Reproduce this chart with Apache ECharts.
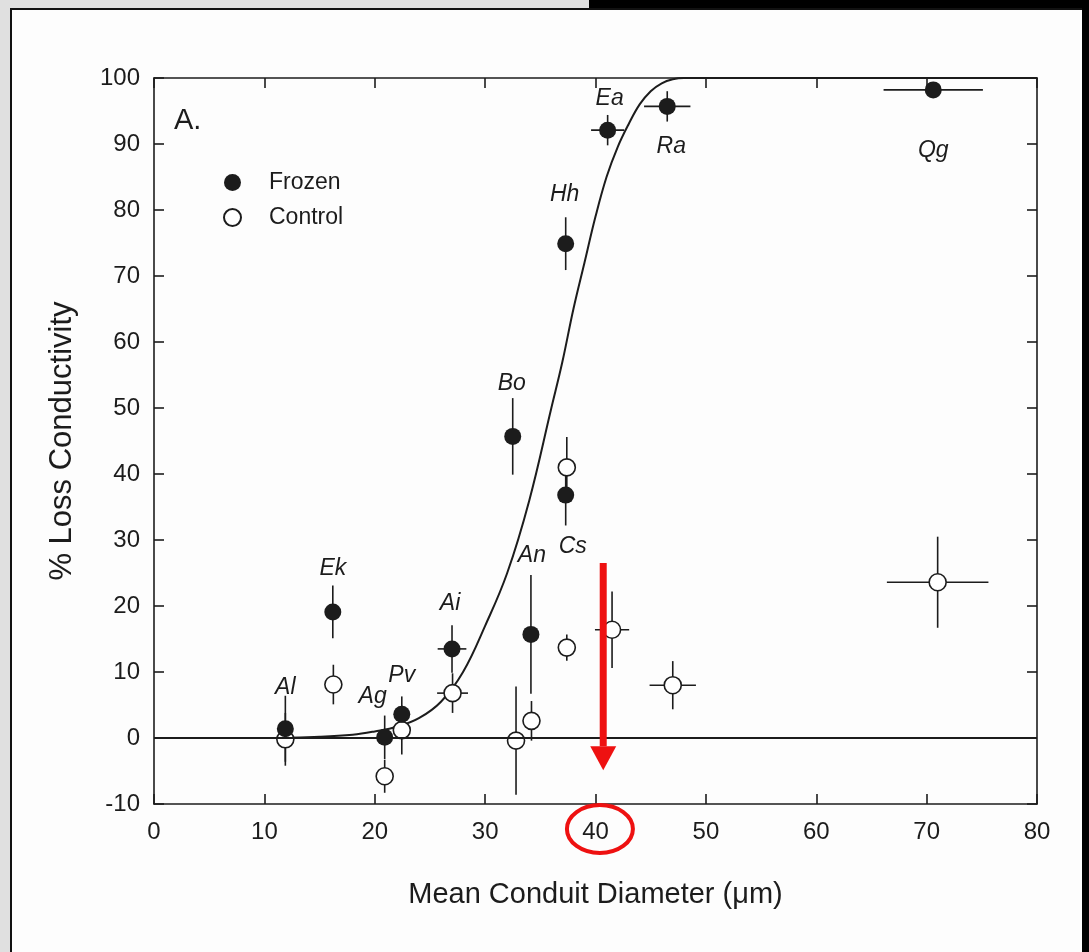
<!DOCTYPE html>
<html>
<head>
<meta charset="utf-8">
<script src="https://cdn.jsdelivr.net/npm/echarts@6/dist/echarts.min.js"></script>
<style>
  html, body { margin: 0; padding: 0; background: #fdfdfd; }
  #chart { width: 1089px; height: 952px; }
</style>
</head>
<body>
<div id="chart"></div>
<script>
// fitted curve
const curveX = [0, 10, 15, 18, 20, 22, 24, 26, 28, 30, 32, 34, 36, 37, 38, 39, 40, 41, 42, 43, 44, 45, 46, 47, 48, 50, 80];
const curveY = [0, 0, 0.2, 0.5, 1, 1.7, 3, 5.5, 10, 17, 25, 36, 50, 57, 65, 72, 79, 85, 89.5, 93, 96, 98, 99.2, 99.8, 100, 100, 100];

// frozen (filled)
const frozenNames = ['Al', 'Ek', 'Ag', 'Pv', 'Ai', 'Bo', 'An', 'Cs', 'Hh', 'Ea', 'Ra', 'Qg'];
const frozenX = [11.9, 16.2, 20.9, 22.45, 27.0, 32.5, 34.15, 37.3, 37.3, 41.1, 46.5, 70.6];
const frozenY = [1.4, 19.1, 0.1, 3.6, 13.5, 45.7, 15.7, 36.8, 74.9, 92.1, 95.7, 98.2];
const frozenXErr = [0, 0, 0, 0, 1.3, 0, 0, 0.6, 0, 1.5, 2.1, 4.5];
const frozenYErr = [5, 4, 3.3, 2.7, 3.6, 5.8, 9, 4.6, 4, 2.3, 2.3, 0];

// control (open)
const controlX = [11.9, 16.25, 20.9, 22.45, 27.05, 32.8, 34.2, 37.4, 37.4, 41.5, 47.0, 71.0];
const controlY = [-0.2, 8.1, -5.8, 1.2, 6.8, -0.4, 2.6, 41.0, 13.7, 16.4, 8.0, 23.6];
const controlXErr = [0, 0, 0, 0.7, 1.4, 0, 0, 0, 0.6, 1.55, 2.1, 4.6];
const controlYErr = [4, 3, 2.5, 3.7, 3, 8.2, 3, 4.6, 2, 5.8, 3.65, 6.9];

// red annotation (x, top, tip)
const arrowX = 40.7, arrowTop = 26.5, arrowTip = -4.9;
const circledTick = 40.4;

const FONT = '"Liberation Sans", Arial, sans-serif';
const INK = '#1c1c1c';

// label offsets for species names (px)
const labelOffsets = {
  Al: [0, -41], Ek: [0, -43], Ag: [-12, -41], Pv: [0, -39], Ai: [-2, -45], Bo: [-1, -53],
  An: [1, -79], Cs: [7, 51], Hh: [-1, -49], Ea: [2, -32], Ra: [4, 40], Qg: [0, 61]
};

function errorBars(xs, ys, xe, ye) {
  return {
    type: 'custom',
    silent: true,
    z: 3,
    encode: { x: 0, y: 1 },
    renderItem: function (params, api) {
      const x = api.value(0), y = api.value(1), dx = api.value(2), dy = api.value(3);
      const kids = [];
      if (dy > 0) {
        const a = api.coord([x, y - dy]), b = api.coord([x, y + dy]);
        kids.push({ type: 'line', shape: { x1: a[0], y1: a[1], x2: b[0], y2: b[1] }, style: { stroke: INK, lineWidth: 1.6 } });
      }
      if (dx > 0) {
        const a = api.coord([x - dx, y]), b = api.coord([x + dx, y]);
        kids.push({ type: 'line', shape: { x1: a[0], y1: a[1], x2: b[0], y2: b[1] }, style: { stroke: INK, lineWidth: 1.6 } });
      }
      return { type: 'group', children: kids };
    },
    data: xs.map((x, i) => [x, ys[i], xe[i], ye[i]])
  };
}

let myChart = echarts.init(document.getElementById('chart'));

let axisCommon = {
  axisLine: { onZero: false, lineStyle: { color: INK, width: 1.6 } },
  axisTick: { inside: true, length: 10, lineStyle: { color: INK, width: 1.6 } },
  splitLine: { show: false }
};

let option = {
  backgroundColor: '#fdfdfd',
  animation: false,
  textStyle: { fontFamily: FONT, color: INK },
  grid: { left: 154, right: 52, top: 78, bottom: 148 },
  legend: {
    orient: 'vertical',
    left: 218, top: 166,
    itemWidth: 17, itemHeight: 17, itemGap: 12,
    data: ['Frozen', 'Control'],
    textStyle: { fontFamily: FONT, fontSize: 23, color: INK, lineHeight: 17, padding: [0, 0, 0, 23] }
  },
  xAxis: [{
    type: 'value', min: 0, max: 80, interval: 10,
    name: 'Mean Conduit Diameter (\u03bcm)', nameLocation: 'middle', nameGap: 76,
    nameTextStyle: { fontFamily: FONT, fontSize: 29, color: INK },
    axisLabel: { fontFamily: FONT, fontSize: 24, color: INK, margin: 16 },
    ...axisCommon
  }, {
    type: 'value', min: 0, max: 80, interval: 10, position: 'top',
    axisLabel: { show: false },
    ...axisCommon
  }],
  yAxis: [{
    type: 'value', min: -10, max: 100, interval: 10,
    name: '% Loss Conductivity', nameLocation: 'middle', nameGap: 76,
    nameTextStyle: { fontFamily: FONT, fontSize: 31, color: INK },
    axisLabel: { fontFamily: FONT, fontSize: 24, color: INK, margin: 14 },
    ...axisCommon
  }, {
    type: 'value', min: -10, max: 100, interval: 10, position: 'right',
    axisLabel: { show: false },
    ...axisCommon
  }],
  series: [
    {
      type: 'line',
      smooth: 0.4,
      showSymbol: false,
      silent: true,
      z: 2,
      lineStyle: { color: INK, width: 2 },
      data: curveX.map((x, i) => [x, curveY[i]]),
      markLine: {
        silent: true,
        symbol: ['none', 'none'],
        label: { show: false },
        lineStyle: { color: INK, width: 1.8, type: 'solid' },
        data: [{ yAxis: 0 }]
      }
    },
    errorBars(frozenX, frozenY, frozenXErr, frozenYErr),
    errorBars(controlX, controlY, controlXErr, controlYErr),
    {
      name: 'Control',
      type: 'scatter',
      z: 4,
      symbol: 'circle',
      symbolSize: 17,
      itemStyle: { color: '#ffffff', borderColor: INK, borderWidth: 1.6, opacity: 1 },
      data: controlX.map((x, i) => [x, controlY[i]])
    },
    {
      name: 'Frozen',
      type: 'scatter',
      z: 5,
      symbol: 'circle',
      symbolSize: 17,
      itemStyle: { color: INK, opacity: 1 },
      data: frozenX.map((x, i) => ({
        name: frozenNames[i],
        value: [x, frozenY[i]],
        label: {
          show: true,
          position: 'inside',
          offset: labelOffsets[frozenNames[i]],
          formatter: '{b}',
          fontFamily: FONT,
          fontStyle: 'italic',
          fontSize: 23,
          color: INK
        }
      }))
    }
  ]
};

myChart.setOption(option);

// scanned page edges, panel letter and the red annotation
let p0 = myChart.convertToPixel({ gridIndex: 0 }, [arrowX, arrowTop]);
let p1 = myChart.convertToPixel({ gridIndex: 0 }, [arrowX, arrowTip]);
let pc = myChart.convertToPixel({ gridIndex: 0 }, [circledTick, -10]);
let headH = 24, headW = 13;

myChart.setOption({
  graphic: [
    { type: 'rect', shape: { x: 0, y: 0, width: 10, height: 952 }, style: { fill: '#e0e0e0' }, z: 100 },
    { type: 'rect', shape: { x: 10, y: 0, width: 2, height: 952 }, style: { fill: '#111' }, z: 100 },
    { type: 'rect', shape: { x: 0, y: 0, width: 589, height: 8 }, style: { fill: '#e0e0e0' }, z: 100 },
    { type: 'rect', shape: { x: 589, y: 0, width: 500, height: 8 }, style: { fill: '#000' }, z: 100 },
    { type: 'rect', shape: { x: 10, y: 8, width: 1079, height: 2 }, style: { fill: '#111' }, z: 100 },
    { type: 'rect', shape: { x: 1082, y: 0, width: 7, height: 952 }, style: { fill: '#000' }, z: 100 },
    { type: 'text', left: 174, top: 106, style: { text: 'A.', fontFamily: FONT, fontSize: 29, fill: INK }, z: 100 },
    { type: 'rect', shape: { x: p0[0] - 3.5, y: p0[1], width: 7, height: p1[1] - headH - p0[1] }, style: { fill: '#ee1111' }, z: 100 },
    { type: 'polygon', shape: { points: [[p1[0] - headW, p1[1] - headH], [p1[0] + headW, p1[1] - headH], [p1[0], p1[1]]] }, style: { fill: '#ee1111' }, z: 100 },
    { type: 'ellipse', shape: { cx: pc[0], cy: pc[1] + 25, rx: 33, ry: 24 }, style: { fill: 'none', stroke: '#ee1111', lineWidth: 4 }, z: 100 }
  ]
});
</script>
</body>
</html>
